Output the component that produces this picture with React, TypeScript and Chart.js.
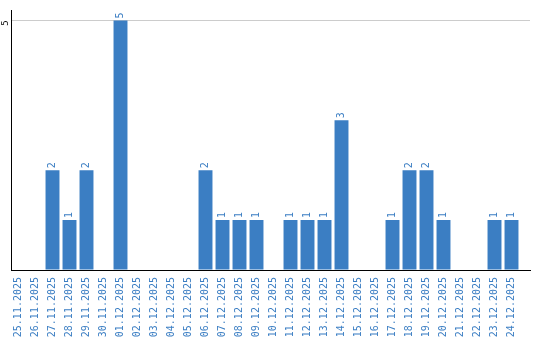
import React, { useEffect, useRef } from "react";
import { Chart, registerables } from "chart.js";

Chart.register(...registerables);

const dates = [
  "25.11.2025", "26.11.2025", "27.11.2025", "28.11.2025", "29.11.2025", "30.11.2025",
  "01.12.2025", "02.12.2025", "03.12.2025", "04.12.2025", "05.12.2025", "06.12.2025",
  "07.12.2025", "08.12.2025", "09.12.2025", "10.12.2025", "11.12.2025", "12.12.2025",
  "13.12.2025", "14.12.2025", "15.12.2025", "16.12.2025", "17.12.2025", "18.12.2025",
  "19.12.2025", "20.12.2025", "21.12.2025", "22.12.2025", "23.12.2025", "24.12.2025",
];
const values = [0, 0, 2, 1, 2, 0, 5, 0, 0, 0, 0, 2, 1, 1, 1, 0, 1, 1, 1, 3, 0, 0, 1, 2, 2, 1, 0, 0, 1, 1];
const yTicks = [0, 5];

const BLUE = "#3b7ec3";
const FONT = "'DejaVu Sans Mono', monospace";

const valueLabels = {
  id: "valueLabels",
  afterDatasetsDraw(chart: any) {
    const ctx = chart.ctx;
    const meta = chart.getDatasetMeta(0);
    ctx.save();
    ctx.fillStyle = BLUE;
    ctx.font = `10px ${FONT}`;
    ctx.textAlign = "left";
    ctx.textBaseline = "middle";
    meta.data.forEach((bar: any, i: number) => {
      const v = values[i];
      if (!v) return;
      ctx.save();
      ctx.translate(bar.x, bar.y - 2);
      ctx.rotate(-Math.PI / 2);
      ctx.fillText(String(v), 0, 0);
      ctx.restore();
    });
    ctx.restore();
  },
};

export default function App() {
  const ref = useRef<HTMLCanvasElement>(null);
  useEffect(() => {
    const chart = new Chart(ref.current!, {
      type: "bar",
      data: {
        datasets: [
          {
            data: values.map((v, i) => ({ x: i, y: v })),
            backgroundColor: BLUE,
            borderWidth: 0,
            barPercentage: 1,
            categoryPercentage: 0.82,
          },
        ],
      },
      options: {
        animation: false,
        responsive: false,
        maintainAspectRatio: false,
        layout: { padding: { left: 0, top: 10, right: 10, bottom: 0 } },
        plugins: { legend: { display: false }, tooltip: { enabled: false } },
        scales: {
          x: {
            type: "linear",
            offset: false,
            min: -7.5 / 17,
            max: -7.5 / 17 + 519 / 17,
            afterBuildTicks: (scale: any) => {
              scale.ticks = dates.map((_, i) => ({ value: i }));
            },
            afterFit: (scale: any) => {
              scale.height = 70;
            },
            grid: { display: false, drawTicks: false, offset: false },
            border: { display: true, color: "#000", width: 1 },
            ticks: {
              autoSkip: false,
              minRotation: 90,
              maxRotation: 90,
              padding: 7,
              color: BLUE,
              font: { family: FONT, size: 10 },
              callback: (v: any) => dates[v] ?? "",
            },
          },
          y: {
            min: 0,
            max: 5.2,
            afterBuildTicks: (scale: any) => {
              scale.ticks = yTicks.map((v) => ({ value: v }));
            },
            afterFit: (scale: any) => {
              scale.width = 11;
            },
            grid: {
              drawTicks: false,
              color: (c: any) => (c.tick && c.tick.value === 0 ? "rgba(0,0,0,0)" : "#cccccc"),
            },
            border: { display: true, color: "#000", width: 1 },
            ticks: {
              minRotation: 90,
              maxRotation: 90,
              padding: 5,
              color: "#000",
              font: { family: FONT, size: 9 },
              callback: (v: any) => (v === 5 ? "5" : ""),
            },
          },
        },
      },
      plugins: [valueLabels],
    });
    return () => chart.destroy();
  }, []);
  return (
    <div style={{ position: "absolute", left: 0, top: 0, width: 540, height: 340 }}>
      <canvas ref={ref} width={540} height={340} style={{ width: 540, height: 340 }} />
    </div>
  );
}
